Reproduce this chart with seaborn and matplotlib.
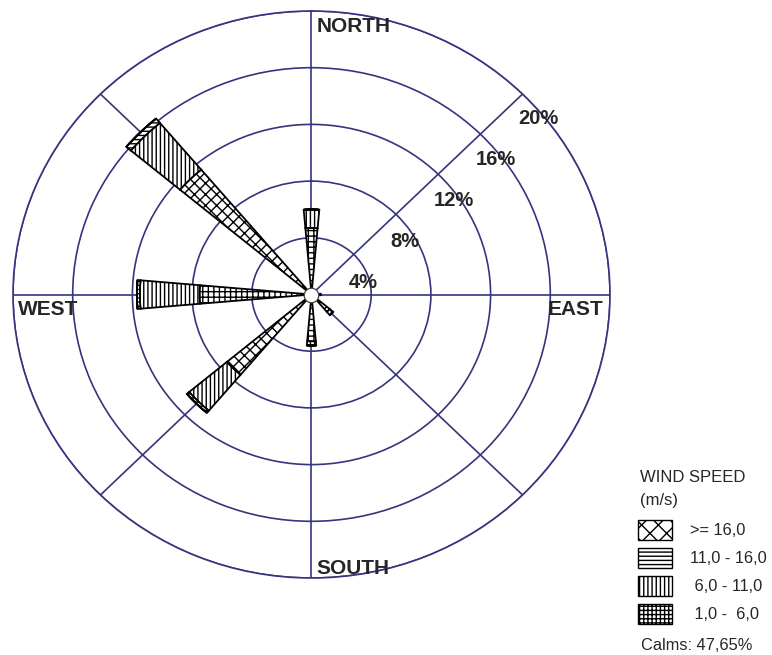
import numpy as np
import matplotlib.pyplot as plt
import seaborn as sns
from matplotlib.patches import Patch

# wind rose data (% of time)
directions = ["N", "NE", "E", "SE", "S", "SW", "W", "NW"]
dir_angles = [0, 45, 90, 135, 180, 225, 270, 315]

freq_1_6 = [4.7, 0.0, 0.6, 1.6, 3.3, 7.4, 7.5, 11.5]
freq_6_11 = [1.3, 0.0, 0.0, 0.3, 0.3, 3.3, 4.0, 4.3]
freq_11_16 = [0.0, 0.0, 0.0, 0.0, 0.0, 0.2, 0.2, 0.4]
freq_16_up = [0.0, 0.0, 0.0, 0.0, 0.0, 0.0, 0.0, 0.0]
calms = "47,65%"

ring_values = [4, 8, 12, 16, 20]
ring_labels = ["4%", "8%", "12%", "16%", "20%"]
ring_label_angles = [75.7, 59.4, 55.2, 52.5, 50.8]
ring_label_radii = [3.56, 7.3, 11.6, 15.6, 19.6]

legend_labels = [">= 16,0", "11,0 - 16,0", " 6,0 - 11,0", " 1,0 -  6,0"]
legend_hatches = ["xx", "----", "||||", "++++"]

sns.set_style("white")
plt.rcParams["font.family"] = ["Liberation Sans", "DejaVu Sans"]

grid_color = "#35357f"

fig = plt.figure(figsize=(7.72, 6.55), dpi=100)
ax = fig.add_axes([13 / 772, 77 / 655, 597 / 772, 567 / 655], projection="polar")
ax.set_aspect("auto")
ax.set_theta_zero_location("N")
ax.set_theta_direction(-1)
ax.set_ylim(0, 20)

ax.set_xticks(np.deg2rad(dir_angles))
ax.set_xticklabels([])
ax.set_yticks(ring_values)
ax.set_yticklabels([])
ax.grid(True, color=grid_color, linewidth=1.2, linestyle="-")
ax.spines["polar"].set_color(grid_color)
ax.spines["polar"].set_linewidth(1.2)
ax.set_axisbelow(True)

theta = np.deg2rad(dir_angles)
width = np.deg2rad(10)
bottom = np.zeros(len(directions))
classes = [
    (freq_1_6, "+++"),
    (freq_6_11, "||||"),
    (freq_11_16, "----"),
    (freq_16_up, "xx"),
]
for i, (vals, hatch) in enumerate(classes):
    vals = np.array(vals)
    bars = ax.bar(theta, vals, width=width, bottom=bottom, color="white",
                  edgecolor="black", linewidth=1.3, hatch=hatch, zorder=3)
    # the grid pattern shows as crosshatch on the diagonal petals
    if i == 0:
        for b, name in zip(bars, directions):
            if len(name) == 2:
                b.set_hatch("xxx")
    bottom = bottom + vals

ax.scatter([0], [0], s=110, color="white", edgecolor="#444444",
           linewidth=0.9, zorder=5)

for lab, ang, r in zip(ring_labels, ring_label_angles, ring_label_radii):
    ax.text(np.deg2rad(ang), r, lab, ha="center", va="center",
            fontsize=14.5, fontweight="bold", zorder=6)

card_kw = dict(transform=ax.transAxes, fontsize=15, fontweight="bold",
               ha="left", va="center")
ax.text(0.509, 0.9735, "NORTH", **card_kw)
ax.text(0.509, 0.0176, "SOUTH", **card_kw)
ax.text(0.0084, 0.4735, "WEST", **card_kw)
ax.text(0.896, 0.4735, "EAST", **card_kw)

# legend title
fig.text(640 / 772, 1 - 477 / 655, "WIND SPEED", fontsize=12,
         ha="left", va="center")
fig.text(640 / 772, 1 - 500 / 655, "(m/s)", fontsize=12,
         ha="left", va="center")

handles = [Patch(facecolor="white", edgecolor="black", hatch=h, linewidth=1.0)
           for h in legend_hatches]
leg = fig.legend(handles, legend_labels, loc="upper left",
                 bbox_to_anchor=(638 / 772, 1 - 520 / 655), frameon=False,
                 fontsize=11.8, handlelength=2.1, handleheight=1.5,
                 handletextpad=1.05, labelspacing=0.48, borderpad=0,
                 borderaxespad=0)
fig.text(641 / 772, 1 - 645 / 655, "Calms: " + calms, fontsize=11.8,
         ha="left", va="center")

fig.savefig("out.png", dpi=100)
